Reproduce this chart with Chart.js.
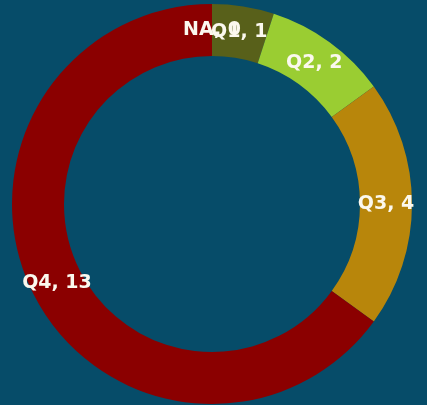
<!doctype html>
<html lang="en">
  <head>
    <meta charset="utf-8">
    <title>Doughnut</title>
    <style>
      * { margin: 0; padding: 0; }
      body { background: #064c69; }
      .chartBox { width: 427px; height: 405px; }
    </style>
  </head>
  <body>
    <div class="chartBox">
      <canvas id="myChart"></canvas>
    </div>
    <script src="https://cdn.jsdelivr.net/npm/chart.js"></script>
    <script>
    // data
    const categories = ['NA', 'Q1', 'Q2', 'Q3', 'Q4'];
    const counts = [0, 1, 2, 4, 13];
    const sliceColors = ['#808080', '#58601a', '#9acd32', '#b8860b', '#8b0000'];

    // labels like "Q4, 13" in the middle of the ring
    const sliceLabels = {
      id: 'sliceLabels',
      afterDatasetsDraw(chart) {
        const ctx = chart.ctx;
        const meta = chart.getDatasetMeta(0);
        ctx.save();
        ctx.font = 'bold 19px "DejaVu Sans"';
        ctx.fillStyle = '#fbf8ee';
        ctx.textAlign = 'center';
        ctx.textBaseline = 'middle';
        meta.data.forEach((arc, i) => {
          const p = arc.tooltipPosition();
          ctx.fillText(categories[i] + ', ' + counts[i], p.x, p.y);
        });
        ctx.restore();
      }
    };

    const config = {
      type: 'doughnut',
      data: {
        labels: categories,
        datasets: [{
          data: counts,
          backgroundColor: sliceColors,
          borderWidth: 0
        }]
      },
      options: {
        responsive: true,
        maintainAspectRatio: false,
        animation: false,
        cutout: '74%',
        layout: { padding: { top: 4, bottom: 1, left: 11, right: 14 } },
        plugins: {
          legend: { display: false },
          tooltip: { enabled: false }
        }
      },
      plugins: [sliceLabels]
    };

    const myChart = new Chart(document.getElementById('myChart'), config);
    </script>
  </body>
</html>
